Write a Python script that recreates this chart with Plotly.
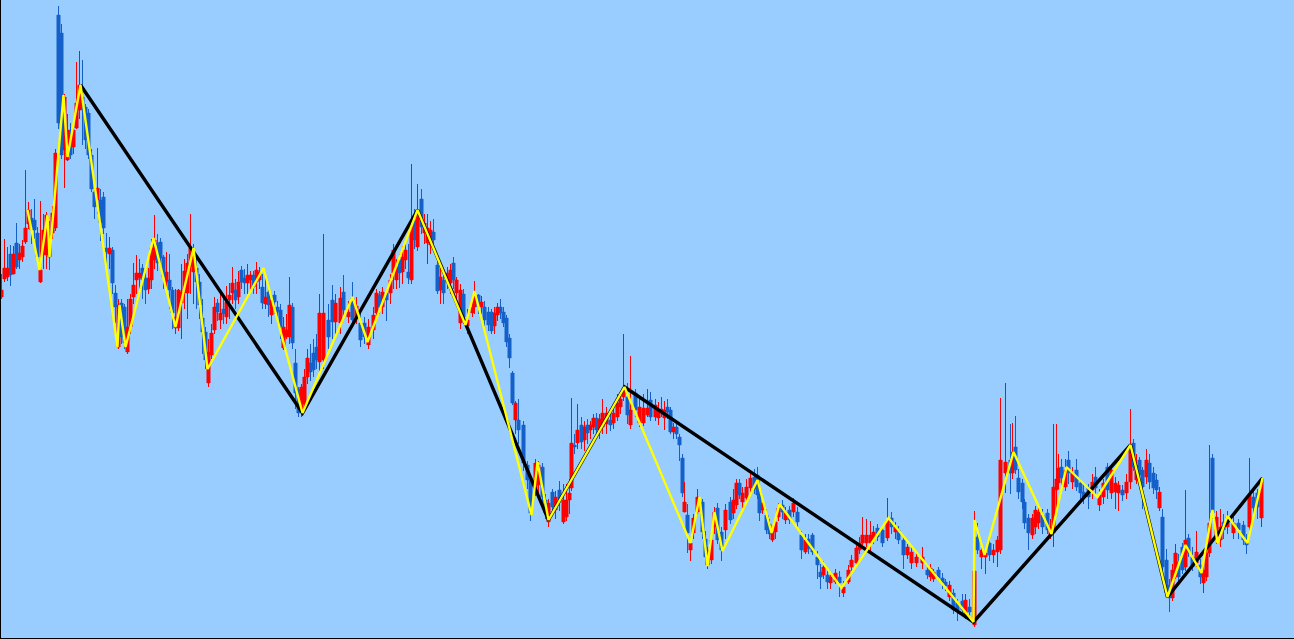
import plotly.graph_objects as go

# Price bars, grouped by stretch of the chart: bar position, open, close, high, low
x1 = [1,4,7,10,13,16,19,22,25,28,31,34,37,40,43,46,49,52,55,58]
o1 = [342,360,362,385,365,396,379,382,397,415,421,419,406,357,384,384,406,406,411,624]
c1 = [349,371,371,364,385,372,386,393,411,429,409,409,382,369,409,424,382,426,486,516]
h1 = [365,400,392,394,393,416,395,399,469,437,430,440,412,438,425,427,418,433,490,633]
l1 = [340,357,358,353,365,370,370,377,395,410,395,400,378,356,370,370,369,400,408,510]

x2 = [61,64,67,70,73,76,79,82,85,88,91,94,97,100,103,106,109,112,115,118]
o2 = [606,489,479,509,492,511,529,542,532,526,484,447,439,439,442,391,385,389,346,292]
c2 = [484,542,509,484,509,536,554,529,499,484,450,432,451,416,411,387,391,356,332,334]
h2 = [615,545,525,516,520,577,588,579,535,530,490,455,491,450,447,406,402,392,354,340]
l2 = [480,451,478,480,485,510,520,494,490,480,447,420,425,398,405,372,370,345,316,290]

x3 = [121,124,127,130,133,136,139,142,145,148,151,154,157,160,163,166,169,172,175,178]
o3 = [336,332,287,312,342,359,361,371,361,350,359,379,396,397,382,357,359,349,311,311]
c3 = [302,296,312,340,354,366,366,359,349,361,391,399,376,381,362,367,349,326,322,349]
h3 = [340,335,340,345,376,384,380,375,366,371,400,424,405,401,384,387,385,352,350,350]
l3 = [295,290,285,305,335,345,350,340,335,345,350,370,368,375,350,350,330,310,305,308]

x4 = [181,184,187,190,193,196,199,202,205,208,211,214,217,220,223,226,229,232,235,238]
o4 = [336,346,346,372,367,371,357,321,307,256,284,309,336,319,330,322,339,346,349,342]
c4 = [347,368,376,391,387,357,334,307,279,287,306,332,327,326,325,337,344,356,339,357]
h4 = [375,380,385,425,395,384,365,340,312,300,315,342,340,345,345,353,356,372,360,368]
l4 = [300,330,320,345,335,330,320,285,270,252,280,305,318,310,315,315,320,335,330,335]

x5 = [241,244,247,250,253,256,259,262,265,268,271,274,277,280,283,286,289,292,295,298,301,304]
o5 = [369,361,356,359,364,357,359,352,335,347,324,344,332,329,291,302,302,332,276,250,229,235]
c5 = [357,356,364,364,352,369,367,336,342,334,339,337,327,312,312,309,334,296,246,226,252,262]
h5 = [373,370,375,368,368,377,372,365,362,352,345,348,338,335,322,325,362,336,290,252,255,270]
l5 = [350,345,345,350,345,345,350,330,330,322,315,325,315,300,289,300,295,290,230,222,222,232]

x6 = [307,310,313,316,319,323,328,332,335,340,343,348,352,356,360,364,368,373,376,379,382,386,390,393,396]
o6 = [262,276,286,292,277,279,319,339,317,316,347,322,341,322,316,316,294,309,326,344,332,346,346,366,359]
c6 = [281,267,269,279,326,326,302,317,336,341,329,327,319,333,299,302,312,324,346,332,347,339,359,389,372]
h6 = [290,295,300,305,345,405,335,354,345,352,364,338,357,342,330,322,320,332,350,348,352,350,365,395,380]
l6 = [255,258,262,270,265,270,290,300,305,305,320,316,312,315,292,295,290,300,320,325,325,318,335,350,350]

x7 = [399,402,405,408,411,414,417,421,424,427,430,433,437,440,443,447,450,453,456,460,463,467,472,474,478]
o7 = [379,367,379,367,359,419,392,440,406,396,394,407,374,349,359,357,356,376,346,316,345,313,326,332,344]
c7 = [366,382,389,361,416,399,429,412,416,411,409,399,348,362,346,366,369,359,359,349,322,319,332,344,332]
h7 = [385,393,400,395,475,430,455,450,425,425,418,420,385,372,365,372,375,382,362,355,350,330,340,358,345]
l7 = [351,355,370,355,355,390,388,405,395,375,385,388,345,335,335,350,345,350,335,310,315,305,322,325,325]

x8 = [481,484,488,491,494,497,500,503,506,509,512,515,518,523,527,530,535,538,542,545,548,552,555,559,563,566,569,571]
o8 = [332,332,327,327,313,324,332,327,321,301,266,219,219,214,174,159,146,154,172,139,117,147,129,149,117,122,139,151]
c8 = [337,319,314,308,326,332,326,316,297,281,236,236,209,176,159,126,176,174,142,126,136,132,142,139,139,139,146,196]
h8 = [343,338,332,330,332,336,340,332,324,305,268,238,240,218,178,162,180,178,176,145,140,150,148,158,155,155,160,241]
l8 = [325,313,308,305,305,318,320,312,292,271,234,205,195,168,150,118,143,140,135,120,112,125,120,128,115,118,125,148]

x9 = [574,577,581,584,587,590,593,596,599,602,606,610,613,617,620,623,627,630,635,639,643,647,650,655,658,661,664,667,670,673,676,679]
o9 = [194,196,214,199,214,209,212,221,210,212,215,219,216,222,232,242,242,214,246,216,216,224,239,222,221,228,221,232,229,207,212,202]
c9 = [192,209,197,212,206,214,221,209,220,226,226,214,226,236,240,249,224,229,229,232,231,231,222,234,229,230,229,227,207,212,205,194]
h9 = [205,235,222,218,220,218,225,226,225,240,232,230,232,245,248,305,256,283,250,240,245,250,247,240,237,242,238,240,232,216,218,205]
l9 = [185,190,190,188,195,200,205,205,200,205,205,208,210,218,225,238,215,210,222,212,213,222,218,218,214,222,209,220,205,200,200,178]

x10 = [682,684,687,690,693,697,702,705,707,711,714,717,721,725,730,733,736,739,742,746,750,754,757,759,762,766,769,772,775,778]
o10 = [181,127,124,89,106,127,137,100,74,79,112,131,107,109,137,126,134,156,137,141,151,162,164,144,129,124,115,99,107,122]
c10 = [146,137,106,96,121,142,107,82,89,99,127,99,89,129,119,139,156,144,146,152,161,150,144,126,136,109,105,107,117,131]
h10 = [185,157,135,100,125,150,140,108,92,105,132,136,112,135,142,150,160,160,152,160,165,170,172,148,140,130,120,112,122,136]
l10 = [142,127,86,78,100,125,100,80,70,75,105,95,78,100,115,120,130,140,130,135,145,145,140,118,125,105,100,97,100,118]

x11 = [782,785,789,793,797,801,805,808,812,817,820,823,827,830,835,839,843,848,851,856,859,862,866,870,873,877,882,887,891,895]
o11 = [134,119,129,127,127,104,87,100,104,82,67,64,64,56,57,62,46,57,72,76,89,96,96,96,99,111,109,101,121,107]
c11 = [127,127,119,136,117,89,99,90,87,74,62,72,57,62,66,56,52,69,79,91,96,104,104,104,107,102,96,119,112,112]
h11 = [139,132,133,141,132,108,105,105,106,88,75,78,70,66,70,68,58,74,84,95,102,122,120,118,113,115,113,141,127,117]
l11 = [120,115,115,122,110,80,85,85,84,60,50,60,50,50,55,42,42,55,68,72,85,92,92,88,95,98,92,98,105,100]

x12 = [898,903,907,911,916,922,927,930,933,938,942,945,949,953,957,962,965,969,974,977,981,985,989,993,997]
o12 = [109,99,84,76,76,76,69,62,60,69,61,57,42,46,36,38,22,32,14,102,82,82,96,84,87]
c12 = [99,84,92,87,82,82,64,71,67,61,56,53,54,29,29,29,39,27,68,89,89,86,84,89,99]
h12 = [113,103,95,92,88,92,75,75,70,72,66,60,58,50,40,45,45,40,128,116,93,90,100,95,103]
l12 = [95,70,80,70,72,70,60,58,57,58,50,48,38,25,18,25,20,20,12,85,70,65,78,76,72]

x13 = [1000,1005,1010,1012,1015,1018,1022,1024,1028,1032,1035,1038,1042,1047,1050,1053,1056,1058,1061,1065,1068,1072,1076,1080,1083,1088,1092,1095,1099]
o13 = [89,166,179,166,192,161,156,137,121,104,112,116,124,126,104,106,149,156,172,152,179,157,169,156,147,151,149,162,134]
c13 = [179,177,166,187,169,147,137,116,106,121,129,127,112,109,112,152,160,171,161,169,166,166,152,146,142,142,157,151,144]
h13 = [241,256,215,216,223,170,160,140,125,125,133,132,130,130,120,215,215,185,180,180,188,172,180,160,155,155,165,172,150]
l13 = [85,146,145,160,165,140,130,110,89,100,105,110,105,105,100,92,130,150,150,148,155,150,148,140,135,130,140,145,128]

x14 = [1103,1107,1111,1115,1118,1122,1126,1130,1133,1136,1139,1142,1146,1149,1153,1156,1159,1162,1166,1169,1172,1175,1178,1182,1185]
o14 = [142,172,146,147,146,149,146,157,196,159,179,169,162,176,166,159,131,122,79,54,41,62,77,92,72]
c14 = [156,149,169,156,154,144,157,192,172,174,164,152,179,157,151,149,147,72,46,41,69,86,62,69,99]
h14 = [160,176,172,162,158,154,165,230,200,185,182,172,190,185,172,165,152,130,90,60,75,95,85,96,149]
l14 = [135,140,140,130,128,138,140,150,168,155,158,130,155,150,145,140,128,68,42,27,38,60,55,65,68]

x15 = [1188,1192,1196,1200,1203,1206,1209,1212,1216,1220,1223,1227,1233,1238,1243,1246,1249,1253,1257,1261]
o15 = [101,82,76,74,56,62,86,181,102,99,117,112,106,116,114,99,112,142,146,121]
c15 = [86,72,87,62,69,86,116,126,122,112,109,122,116,109,99,94,144,131,132,159]
h15 = [105,92,108,80,75,92,194,185,128,130,125,128,122,120,118,105,181,148,150,160]
l15 = [82,68,72,55,46,58,82,120,95,92,100,105,100,100,94,85,108,125,120,112]

# Swing lines
major_x = [80,302,417,548,624,973,1130,1167,1262]
major_y = [554,226,429,119,252,17,194,42,161]
minor_x = [27,39,47,49,63,67,80,117,119,125,153,175,193,207,263,302,352,367,417,465,474,531,537,548,624,
           690,699,707,714,722,757,771,779,841,888,973,974,984,1013,1051,1066,1097,1130,1167,1185,1201,1212,1217,1227,1247,1262]
minor_y = [429,369,424,382,544,482,554,292,334,292,401,312,391,270,371,226,342,297,429,314,348,124,177,119,252,
           96,142,73,127,88,159,106,135,51,121,17,119,84,187,105,172,142,194,42,94,66,129,96,123,96,161]

bar_x = x1+x2+x3+x4+x5+x6+x7+x8+x9+x10+x11+x12+x13+x14+x15
opens = o1+o2+o3+o4+o5+o6+o7+o8+o9+o10+o11+o12+o13+o14+o15
closes = c1+c2+c3+c4+c5+c6+c7+c8+c9+c10+c11+c12+c13+c14+c15
highs = h1+h2+h3+h4+h5+h6+h7+h8+h9+h10+h11+h12+h13+h14+h15
lows = l1+l2+l3+l4+l5+l6+l7+l8+l9+l10+l11+l12+l13+l14+l15

RED = "#FF0000"
BLUE = "#1560C8"

fig = go.Figure()
# Full-width candle bodies
fig.add_trace(go.Bar(
    x=bar_x,
    y=[abs(c - o) for o, c in zip(opens, closes)],
    base=[min(o, c) for o, c in zip(opens, closes)],
    width=4,
    marker=dict(color=[RED if c >= o else BLUE for o, c in zip(opens, closes)], line=dict(width=0)),
    hoverinfo="skip", showlegend=False,
))
# Wicks
fig.add_trace(go.Candlestick(
    x=bar_x, open=opens, close=closes, high=highs, low=lows,
    increasing=dict(line=dict(color=RED, width=1), fillcolor=RED),
    decreasing=dict(line=dict(color=BLUE, width=1), fillcolor=BLUE),
    whiskerwidth=0, hoverinfo="skip", showlegend=False,
))
fig.add_trace(go.Scatter(x=major_x, y=major_y, mode="lines",
                         line=dict(color="#000000", width=3.4),
                         hoverinfo="skip", showlegend=False))
fig.add_trace(go.Scatter(x=minor_x, y=minor_y, mode="lines",
                         line=dict(color="#FFFF00", width=2.4),
                         hoverinfo="skip", showlegend=False))
fig.update_layout(
    width=1294, height=639,
    margin=dict(l=1, r=0, t=0, b=1),
    paper_bgcolor="#99CCFF", plot_bgcolor="#99CCFF",
    barmode="overlay", boxgap=0, boxgroupgap=0,
    showlegend=False,
    xaxis=dict(range=[0.5, 1293.5], rangeslider=dict(visible=False), showgrid=False, zeroline=False,
               showticklabels=False, ticks="", showline=True, linecolor="#000000", linewidth=1),
    yaxis=dict(range=[1, 639], showgrid=False, zeroline=False,
               showticklabels=False, ticks="", showline=True, linecolor="#000000", linewidth=1),
)
fig.write_html("out.html", config=dict(displayModeBar=False),
               post_script="document.body.style.margin='0';document.documentElement.style.overflow='hidden';")
